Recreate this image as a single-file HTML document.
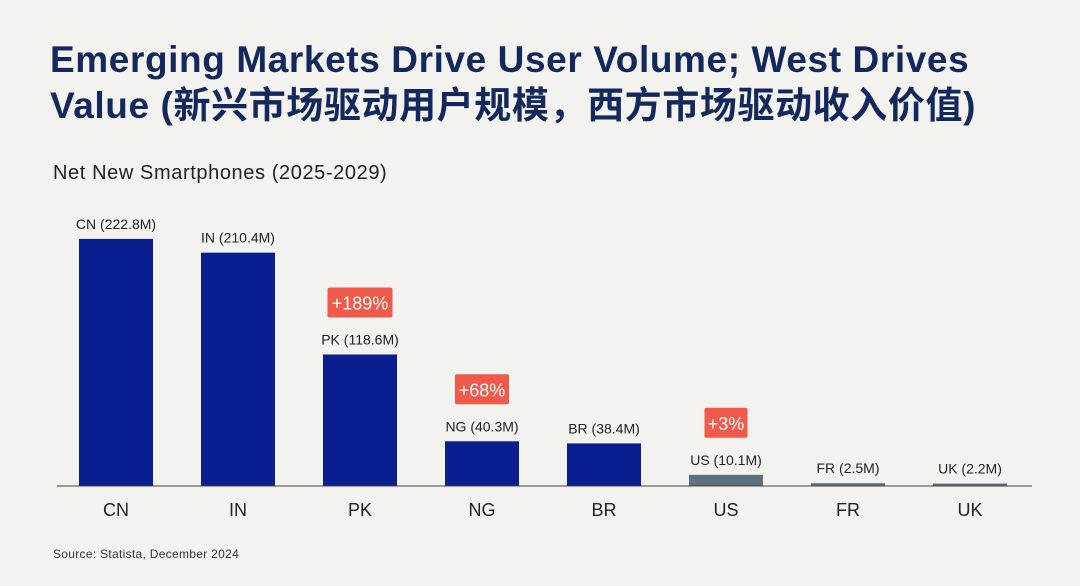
<!DOCTYPE html>
<html><head><meta charset="utf-8"><style>
body{margin:0;width:1080px;height:586px;background:#f3f2ee;font-family:"Liberation Sans","Noto Sans CJK SC",sans-serif;overflow:hidden;position:relative}
h1{position:absolute;left:50px;top:37px;margin:0;font-size:37px;line-height:46px;color:#13295e;font-weight:bold;letter-spacing:0.6px}
.sub{position:absolute;left:53px;top:162px;font-size:20px;color:#222;letter-spacing:0.6px}
.src{position:absolute;left:53px;top:547px;font-size:12px;color:#333;letter-spacing:0.3px}
svg{position:absolute;left:0;top:0}
</style></head><body>
<h1>Emerging Markets Drive User Volume; West Drives<br>Value (新兴市场驱动用户规模，西方市场驱动收入价值)</h1>
<div class="sub">Net New Smartphones (2025-2029)</div>
<div class="src">Source: Statista, December 2024</div>
<svg id="c" width="1080" height="586"></svg>
<script>
const categories=["CN","IN","PK","NG","BR","US","FR","UK"];
const values=[222.8,210.4,118.6,40.3,38.4,10.1,2.5,2.2];
const badges=["","","+189%","+68%","","+3%","",""];
const western=[false,false,false,false,false,true,true,true];
const svg=document.getElementById('c');const NS="http://www.w3.org/2000/svg";
const base=486,scale=1.109,x0=79,step=122,bw=74;
const y=v=>base-v*scale, x=i=>x0+i*step;
function mk(t,a){const e=document.createElementNS(NS,t);for(const k in a)e.setAttribute(k,a[k]);svg.appendChild(e);return e;}
categories.forEach((c,i)=>{
 const r=mk('rect',{x:x(i),y:y(values[i]),width:bw,height:values[i]*scale,fill:western[i]?'#5f6f82':'#0a1f8f'});
 
 
 const cx=x(i)+bw/2;
 const l=mk('text',{x:cx,y:y(values[i])-10,'text-anchor':'middle','font-size':14,fill:'#222'});
 l.textContent=c+' ('+values[i]+'M)';
 
 
 const t=mk('text',{x:cx,y:516,'text-anchor':'middle','font-size':18,fill:'#222'});
 t.textContent=c;
 
 
 if(badges[i]){
  const w=badges[i].length*11+10, top=y(values[i])-67;
  const b=mk('rect',{x:cx-w/2,y:top,width:w,height:30,fill:'#f05a4a',rx:2});
  
  
  const bt=mk('text',{x:cx,y:top+22,'text-anchor':'middle','font-size':18,fill:'#fff'});
  bt.textContent=badges[i];
  
  
 }
});
const ax=mk('line',{x1:57,x2:1032,y1:base,y2:base,stroke:'#444','stroke-width':1});


</script>
</body></html>
